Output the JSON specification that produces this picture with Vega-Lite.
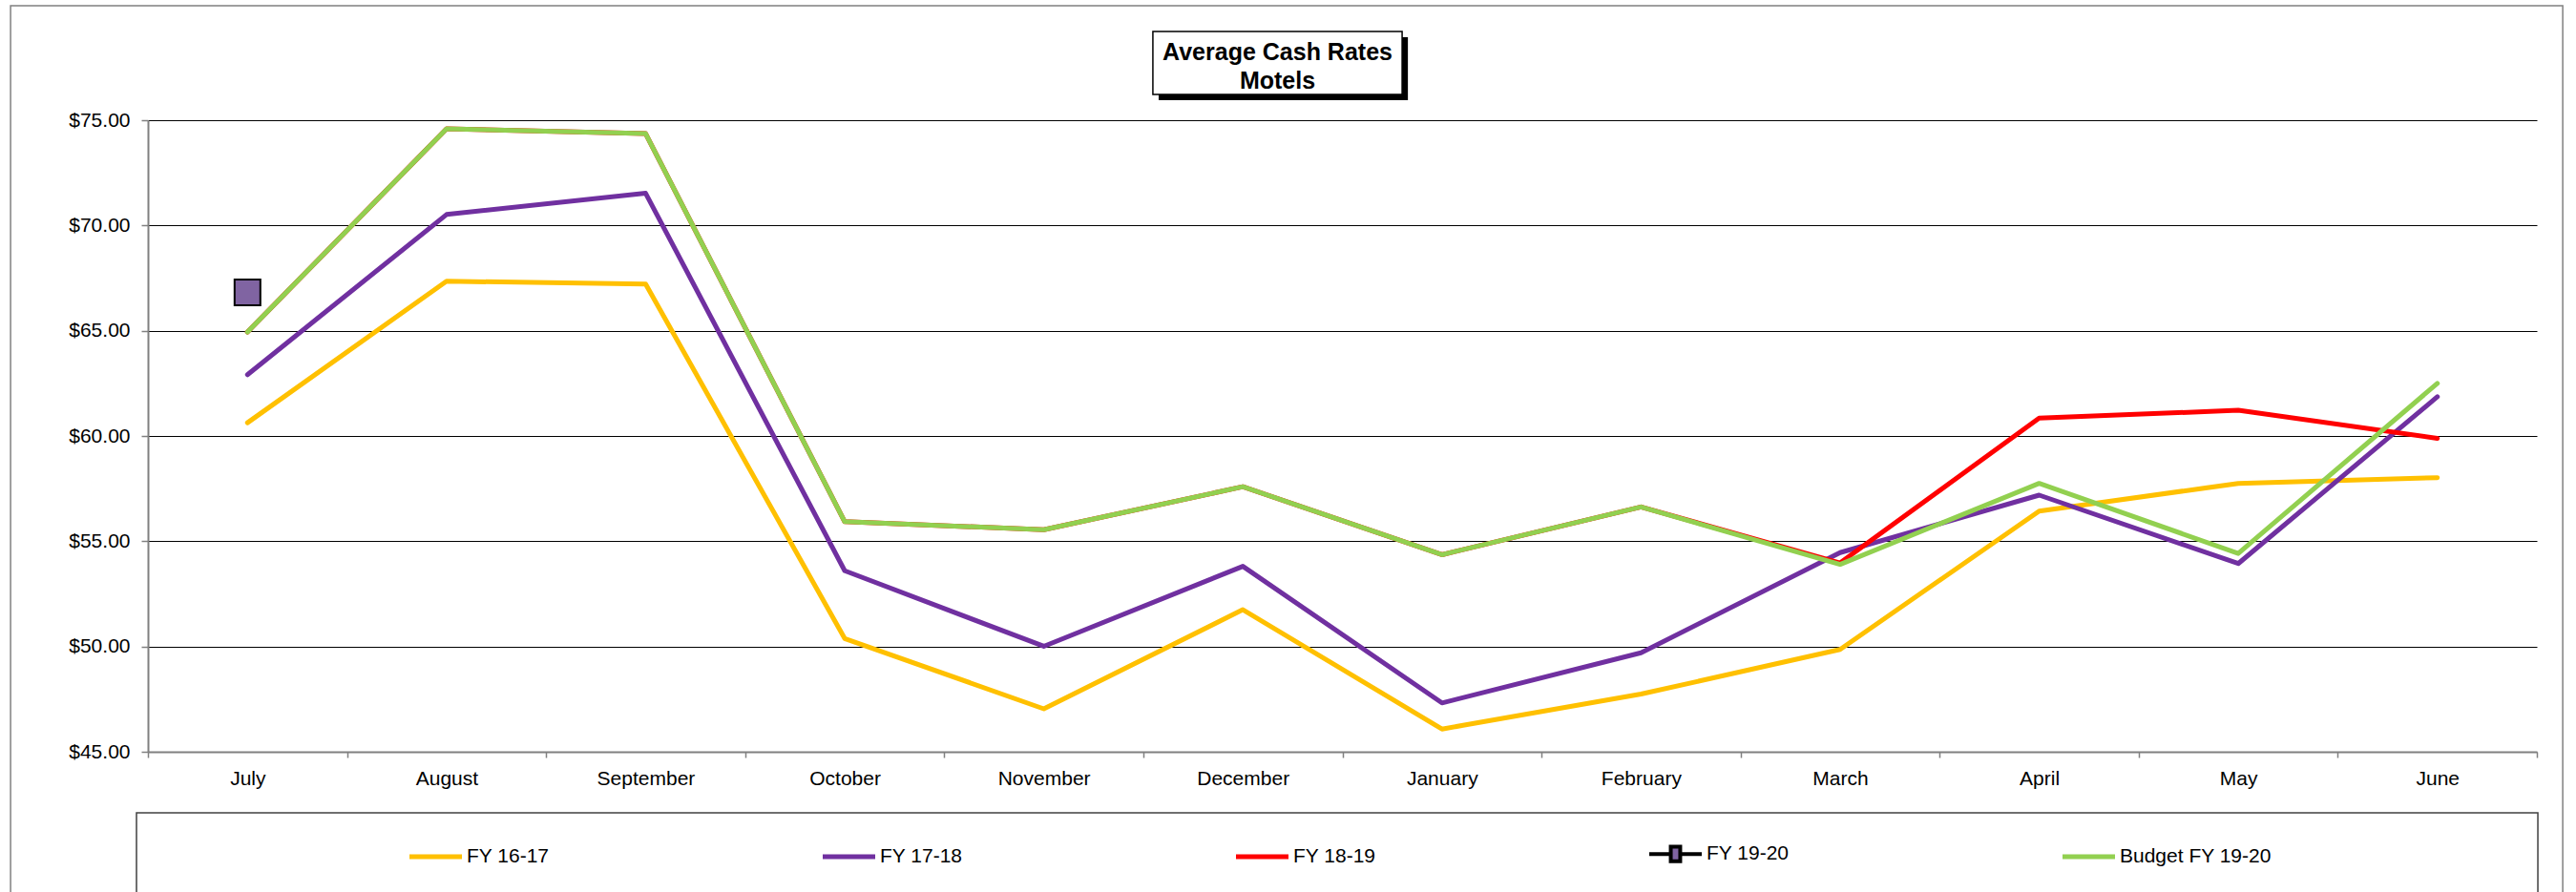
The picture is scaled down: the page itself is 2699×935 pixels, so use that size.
{
  "$schema": "https://vega.github.io/schema/vega-lite/v6.json",
  "width": 2503,
  "height": 662,
  "autosize": {"type": "none"},
  "padding": {"left": 155, "top": 126, "right": 41, "bottom": 147},
  "background": "white",
  "config": {
    "font": "Liberation Sans",
    "view": {"stroke": null}
  },
  "title": {
    "text": ["Average Cash Rates", "Motels"],
    "fontSize": 25,
    "fontWeight": "bold",
    "color": "black",
    "font": "Liberation Sans",
    "anchor": "middle",
    "baseline": "bottom",
    "dx": -68,
    "dy": 118,
    "lineHeight": 30,
    "offset": 0
  },
  "datasets": {
    "rates": [
      {"month": "July", "m": 1, "series": "FY 16-17", "value": 60.63},
      {"month": "August", "m": 2, "series": "FY 16-17", "value": 67.35},
      {"month": "September", "m": 3, "series": "FY 16-17", "value": 67.22},
      {"month": "October", "m": 4, "series": "FY 16-17", "value": 50.38},
      {"month": "November", "m": 5, "series": "FY 16-17", "value": 47.04},
      {"month": "December", "m": 6, "series": "FY 16-17", "value": 51.75},
      {"month": "January", "m": 7, "series": "FY 16-17", "value": 46.08},
      {"month": "February", "m": 8, "series": "FY 16-17", "value": 47.74},
      {"month": "March", "m": 9, "series": "FY 16-17", "value": 49.86},
      {"month": "April", "m": 10, "series": "FY 16-17", "value": 56.43},
      {"month": "May", "m": 11, "series": "FY 16-17", "value": 57.75},
      {"month": "June", "m": 12, "series": "FY 16-17", "value": 58.02},
      {"month": "July", "m": 1, "series": "FY 17-18", "value": 62.91},
      {"month": "August", "m": 2, "series": "FY 17-18", "value": 70.52},
      {"month": "September", "m": 3, "series": "FY 17-18", "value": 71.53},
      {"month": "October", "m": 4, "series": "FY 17-18", "value": 53.6},
      {"month": "November", "m": 5, "series": "FY 17-18", "value": 50.01},
      {"month": "December", "m": 6, "series": "FY 17-18", "value": 53.81},
      {"month": "January", "m": 7, "series": "FY 17-18", "value": 47.32},
      {"month": "February", "m": 8, "series": "FY 17-18", "value": 49.7},
      {"month": "March", "m": 9, "series": "FY 17-18", "value": 54.46},
      {"month": "April", "m": 10, "series": "FY 17-18", "value": 57.19},
      {"month": "May", "m": 11, "series": "FY 17-18", "value": 53.94},
      {"month": "June", "m": 12, "series": "FY 17-18", "value": 61.86},
      {"month": "July", "m": 1, "series": "FY 18-19", "value": 64.94},
      {"month": "August", "m": 2, "series": "FY 18-19", "value": 74.59},
      {"month": "September", "m": 3, "series": "FY 18-19", "value": 74.36},
      {"month": "October", "m": 4, "series": "FY 18-19", "value": 55.93},
      {"month": "November", "m": 5, "series": "FY 18-19", "value": 55.55},
      {"month": "December", "m": 6, "series": "FY 18-19", "value": 57.59},
      {"month": "January", "m": 7, "series": "FY 18-19", "value": 54.36},
      {"month": "February", "m": 8, "series": "FY 18-19", "value": 56.63},
      {"month": "March", "m": 9, "series": "FY 18-19", "value": 53.97},
      {"month": "April", "m": 10, "series": "FY 18-19", "value": 60.85},
      {"month": "May", "m": 11, "series": "FY 18-19", "value": 61.22},
      {"month": "June", "m": 12, "series": "FY 18-19", "value": 59.89},
      {"month": "July", "m": 1, "series": "FY 19-20", "value": 66.82},
      {"month": "July", "m": 1, "series": "Budget FY 19-20", "value": 64.94},
      {"month": "August", "m": 2, "series": "Budget FY 19-20", "value": 74.59},
      {"month": "September", "m": 3, "series": "Budget FY 19-20", "value": 74.36},
      {"month": "October", "m": 4, "series": "Budget FY 19-20", "value": 55.93},
      {"month": "November", "m": 5, "series": "Budget FY 19-20", "value": 55.55},
      {"month": "December", "m": 6, "series": "Budget FY 19-20", "value": 57.59},
      {"month": "January", "m": 7, "series": "Budget FY 19-20", "value": 54.36},
      {"month": "February", "m": 8, "series": "Budget FY 19-20", "value": 56.63},
      {"month": "March", "m": 9, "series": "Budget FY 19-20", "value": 53.9},
      {"month": "April", "m": 10, "series": "Budget FY 19-20", "value": 57.75},
      {"month": "May", "m": 11, "series": "Budget FY 19-20", "value": 54.42},
      {"month": "June", "m": 12, "series": "Budget FY 19-20", "value": 62.5}
    ]
  },
  "layer": [
    {
      "data": {"values": [{}]},
      "mark": {"type": "rect", "clip": false, "fill": "transparent", "stroke": "#808080", "strokeWidth": 1.5},
      "encoding": {
        "x": {"datum": -0.19, "type": "quantitative", "scale": {"domain": [0.5, 12.5], "nice": false, "zero": false}},
        "x2": {"datum": 12.63},
        "y": {"datum": 80.44, "type": "quantitative", "scale": {"domain": [45, 75], "nice": false, "zero": false}},
        "y2": {"datum": 37.2}
      }
    },
    {
      "data": {"values": [{}]},
      "mark": {"type": "rect", "clip": false, "fill": "transparent", "stroke": "#404040", "strokeWidth": 1.5},
      "encoding": {
        "x": {"datum": 0.4425, "type": "quantitative", "scale": {"domain": [0.5, 12.5], "nice": false, "zero": false}},
        "x2": {"datum": 12.505},
        "y": {"datum": 42.1, "type": "quantitative", "scale": {"domain": [45, 75], "nice": false, "zero": false}},
        "y2": {"datum": 37.2}
      }
    },
    {
      "data": {"values": [{}]},
      "mark": {"type": "rect", "clip": false, "fill": "black"},
      "encoding": {
        "x": {"datum": 5.577, "type": "quantitative", "scale": {"domain": [0.5, 12.5], "nice": false, "zero": false}},
        "x2": {"datum": 6.829},
        "y": {"datum": 78.94, "type": "quantitative", "scale": {"domain": [45, 75], "nice": false, "zero": false}},
        "y2": {"datum": 75.95}
      }
    },
    {
      "data": {"values": [{}]},
      "mark": {"type": "rect", "clip": false, "fill": "white", "stroke": "black", "strokeWidth": 1.5},
      "encoding": {
        "x": {"datum": 5.548, "type": "quantitative", "scale": {"domain": [0.5, 12.5], "nice": false, "zero": false}},
        "x2": {"datum": 6.8},
        "y": {"datum": 79.21, "type": "quantitative", "scale": {"domain": [45, 75], "nice": false, "zero": false}},
        "y2": {"datum": 76.22}
      }
    },
    {
      "data": {"name": "rates"},
      "transform": [{"filter": "datum.series === 'FY 16-17' || datum.series === 'FY 17-18' || datum.series === 'FY 18-19'"}],
      "mark": {"type": "line", "strokeWidth": 5, "strokeCap": "round", "strokeJoin": "round"},
      "encoding": {
        "x": {
          "field": "m", "type": "quantitative",
          "scale": {"domain": [0.5, 12.5], "nice": false, "zero": false},
          "axis": {
            "title": null,
            "values": [0.5, 1.5, 2.5, 3.5, 4.5, 5.5, 6.5, 7.5, 8.5, 9.5, 10.5, 11.5, 12.5],
            "labelExpr": "datum.value < 12 ? ['July','August','September','October','November','December','January','February','March','April','May','June'][round(datum.value - 0.5)] : ''",
            "labelOffset": 104.3,
            "labelAlign": "center",
            "labelBaseline": "top",
            "labelFlush": false,
            "labelOverlap": false,
            "labelBound": false,
            "labelFontSize": 21,
            "labelColor": "black",
            "labelFont": "Liberation Sans",
            "labelPadding": 11,
            "grid": false,
            "domainColor": "#808080",
            "domainWidth": 2,
            "tickColor": "#808080",
            "tickWidth": 1.5,
            "tickSize": 6
          }
        },
        "y": {
          "field": "value", "type": "quantitative",
          "scale": {"domain": [45, 75], "nice": false, "zero": false},
          "axis": {
            "title": null,
            "values": [45, 50, 55, 60, 65, 70, 75],
            "format": "$.2f",
            "labelFontSize": 21,
            "labelColor": "black",
            "labelFont": "Liberation Sans",
            "labelPadding": 12,
            "labelFlush": false,
            "labelOverlap": false,
            "grid": true,
            "gridColor": {"condition": {"test": "datum.value === 45", "value": "#808080"}, "value": "black"},
            "gridWidth": 1.2,
            "domainColor": "#808080",
            "domainWidth": 2,
            "tickColor": "#808080",
            "tickWidth": 1.5,
            "tickSize": 7
          }
        },
        "color": {
          "field": "series", "type": "nominal",
          "scale": {
            "domain": ["FY 16-17", "FY 17-18", "FY 18-19", "FY 19-20", "Budget FY 19-20"],
            "range": ["#FFC000", "#7030A0", "#FF0000", "#000000", "#92D050"]
          },
          "legend": {
            "title": null,
            "orient": "none",
            "legendX": 274,
            "legendY": 769,
            "direction": "horizontal",
            "columns": 5,
            "gridAlign": "all",
            "columnPadding": 204,
            "padding": 0,
            "symbolType": "stroke",
            "symbolSize": 3025,
            "symbolStrokeWidth": 5,
            "labelFontSize": 21,
            "labelColor": "black",
            "labelFont": "Liberation Sans",
            "labelOffset": 5,
            "labelLimit": 400,
            "encode": {
              "symbols": {
                "update": {
                  "x": {"value": 27.5},
                  "y": {"value": 0},
                  "size": {"value": 3025},
                  "shape": {"signal": "datum.value === 'FY 19-20' ? 'M-1,0H-0.18M0.18,0H1M-0.18,-0.28H0.18V0.28H-0.18Z' : 'stroke'"},
                  "fill": {"signal": "datum.value === 'FY 19-20' ? '#8064A2' : 'transparent'"},
                  "strokeWidth": {"signal": "datum.value === 'FY 19-20' ? 4 : 5"}
                }
              },
              "labels": {
                "update": {
                  "x": {"value": 60},
                  "y": {"value": 0},
                  "baseline": {"value": "middle"},
                  "align": {"value": "left"}
                }
              }
            }
          }
        }
      }
    },
    {
      "data": {"name": "rates"},
      "transform": [{"filter": "datum.series === 'Budget FY 19-20'"}],
      "mark": {"type": "line", "strokeWidth": 5, "strokeCap": "round", "strokeJoin": "round"},
      "encoding": {
        "x": {"field": "m", "type": "quantitative", "scale": {"domain": [0.5, 12.5], "nice": false, "zero": false}},
        "y": {"field": "value", "type": "quantitative", "scale": {"domain": [45, 75], "nice": false, "zero": false}},
        "color": {
          "field": "series", "type": "nominal",
          "scale": {
            "domain": ["FY 16-17", "FY 17-18", "FY 18-19", "FY 19-20", "Budget FY 19-20"],
            "range": ["#FFC000", "#7030A0", "#FF0000", "#000000", "#92D050"]
          }
        }
      }
    },
    {
      "data": {"name": "rates"},
      "transform": [{"filter": "datum.series === 'FY 19-20'"}],
      "mark": {"type": "point", "shape": "square", "filled": true, "size": 729, "fill": "#8064A2", "stroke": "black", "strokeWidth": 2, "opacity": 1},
      "encoding": {
        "x": {"field": "m", "type": "quantitative", "scale": {"domain": [0.5, 12.5], "nice": false, "zero": false}},
        "y": {"field": "value", "type": "quantitative", "scale": {"domain": [45, 75], "nice": false, "zero": false}}
      }
    }
  ]
}
